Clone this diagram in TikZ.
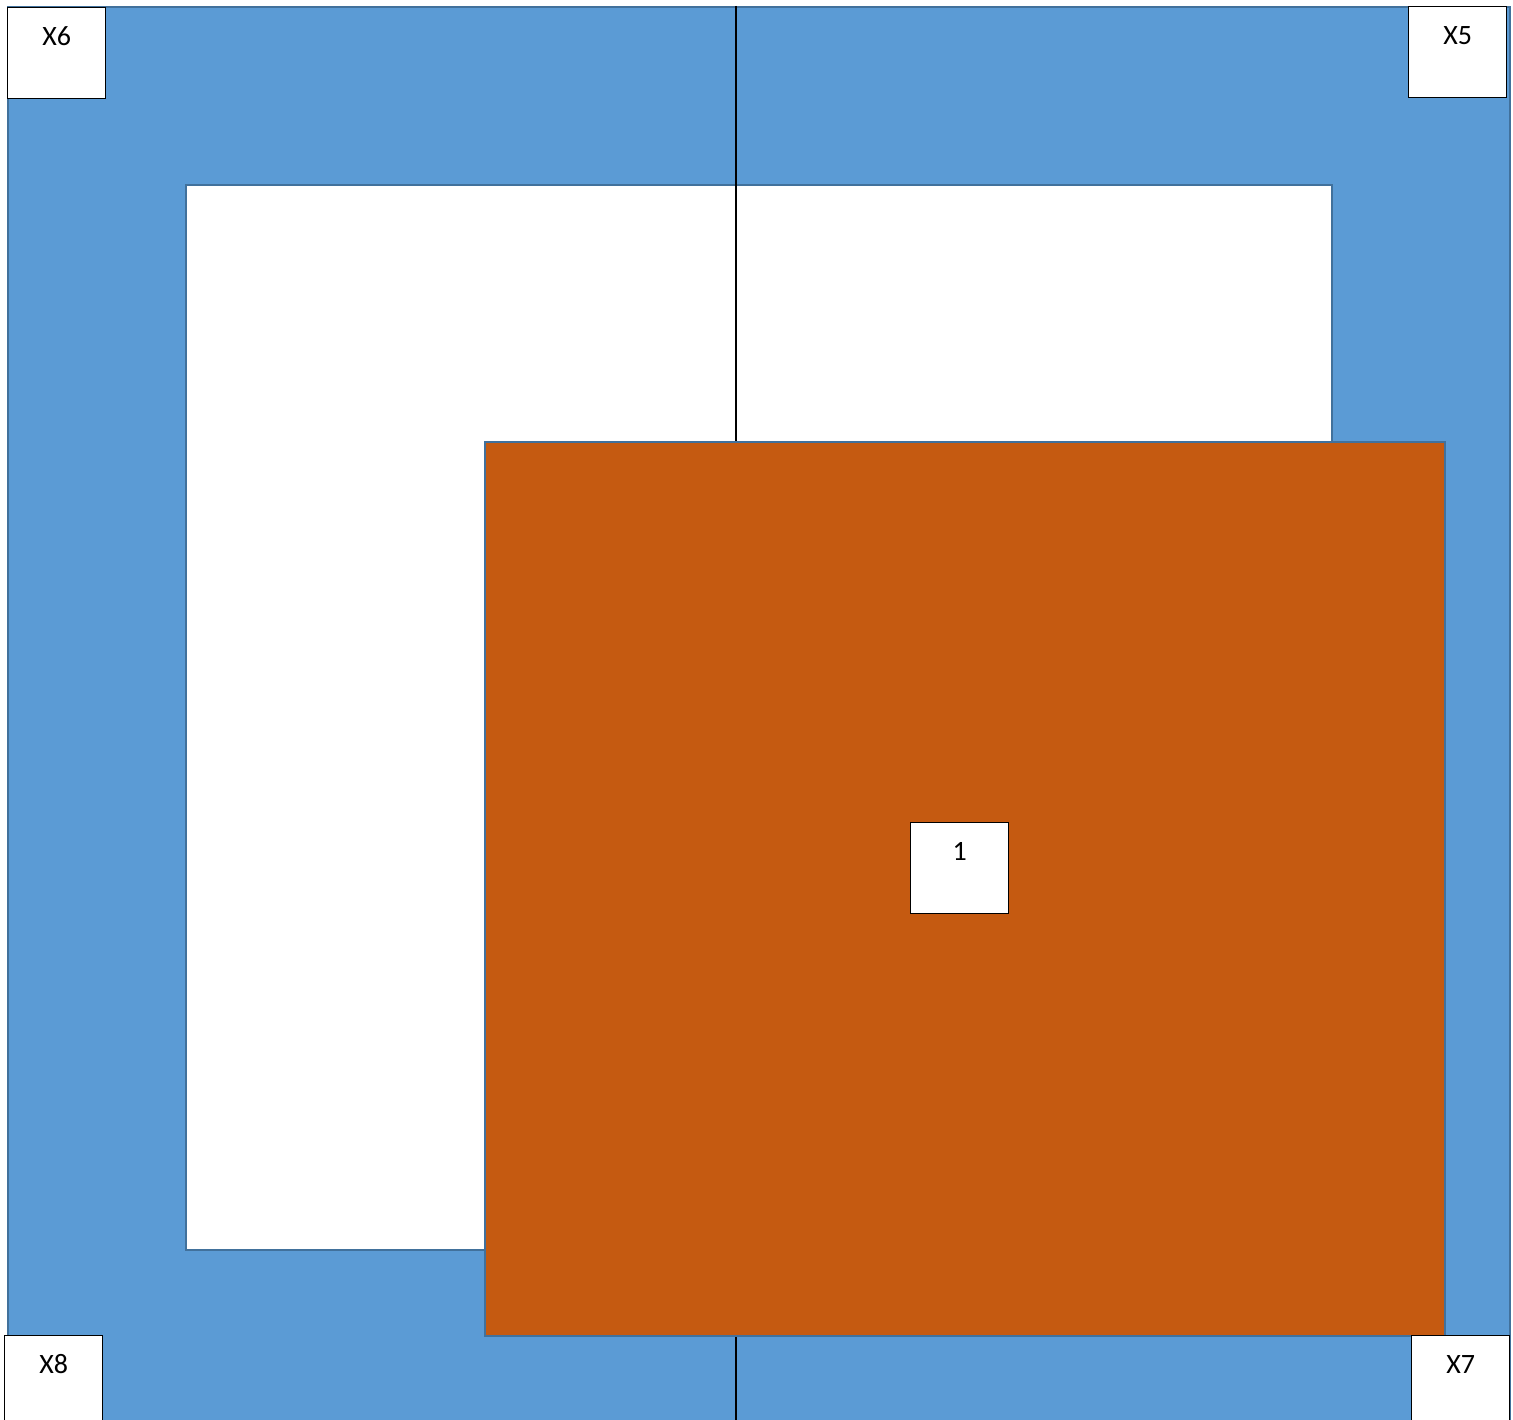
\documentclass[tikz,border=0pt]{standalone}
\usepackage{fontspec}
\setmainfont{Carlito}
\definecolor{bandblue}{HTML}{5B9BD5}
\definecolor{edgeblue}{HTML}{41719C}
\definecolor{rust}{HTML}{C55A11}
\begin{document}
\begin{tikzpicture}[x=1pt,y=-1pt,
  plate/.style={draw=edgeblue, line width=2pt, rectangle, inner sep=0pt, anchor=north west},
  tagbox/.style={draw=black, line width=1.3pt, fill=white, rectangle, inner sep=0pt, anchor=north west,
    minimum width=98pt, text height=38pt, text depth=53pt, font=\fontsize{28}{30}\selectfont}]
\useasboundingbox (0,0) rectangle (1513,1420);
\clip (0,0) rectangle (1513,1420);
\fill[white] (0,0) rectangle (1513,1420);
\node[plate, fill=bandblue, minimum width=1502pt, minimum height=1430pt] (outer) at (7,6) {};
\node[plate, fill=white, minimum width=1146pt, minimum height=1065pt] (inner) at (185,184) {};
\coordinate (ltop) at (736,6);
\coordinate (lbot) at (736,1420);
\draw[black, line width=1.3pt] (ltop) -- (lbot);
\node[plate, fill=rust, minimum width=960pt, minimum height=894pt] (core) at (484,441) {};
\node[tagbox] (x6) at (7,7) {X6};
\node[tagbox] (x5) at (1408,6) {X5};
\node[tagbox, text depth=57pt] (x8) at (4,1335) {X8};
\node[tagbox, text depth=57pt] (x7) at (1411,1335) {X7};
\node[tagbox] (one) at (910,822) {1};
\end{tikzpicture}
\end{document}
